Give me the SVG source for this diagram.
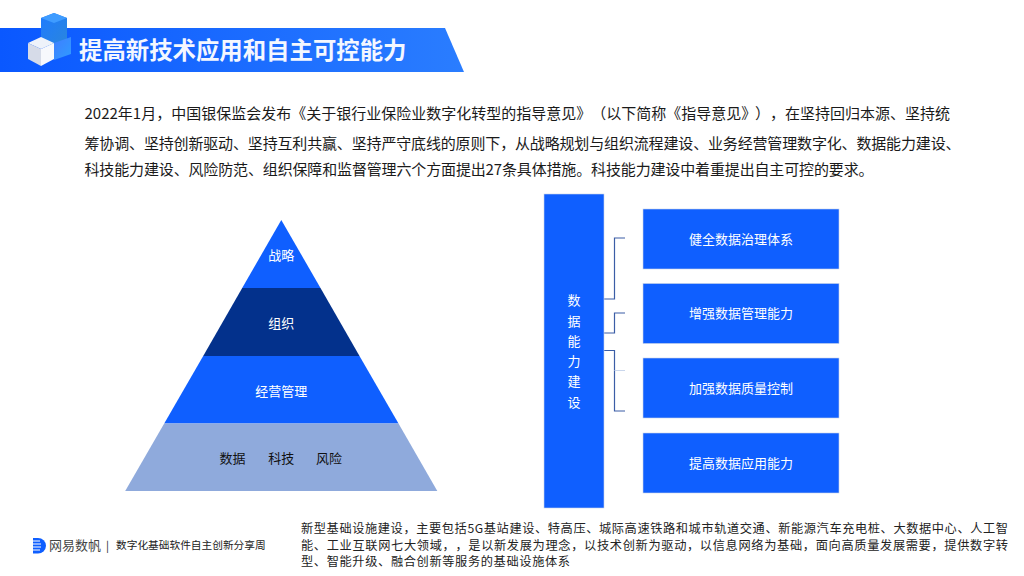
<svg xmlns="http://www.w3.org/2000/svg" width="1024" height="576" viewBox="0 0 1024 576">
<style>
text{font-family:"Noto Sans CJK SC","Liberation Sans",sans-serif;text-spacing-trim:space-all}
.body{font-size:15px;fill:#1a1a1a}
.foot{font-size:12.2px;fill:#222}
.w{font-size:13px;fill:#fff;text-anchor:middle}
.k{font-size:13px;fill:#111;text-anchor:middle}
.box{fill:#0f5fff;stroke:#c9d3e6;stroke-width:.6}
.conn{fill:none;stroke:#3b5da6;stroke-width:1.2}
</style>
<defs>
<linearGradient id="band" x1="0" x2="1" y1="0" y2="0"><stop offset="0" stop-color="#0a58ff"/><stop offset="1" stop-color="#2a7dff"/></linearGradient>
<linearGradient id="cubeTop" x1="0" x2="1" y1="0" y2="1"><stop offset="0" stop-color="#1f7bff"/><stop offset="1" stop-color="#2a86dc"/></linearGradient>
<linearGradient id="cubeSide" x1="0" x2="1" y1="0" y2="1"><stop offset="0" stop-color="#3f7eff"/><stop offset="1" stop-color="#2f9cff"/></linearGradient>
</defs>
<rect width="1024" height="576" fill="#fff"/>
<g id="header">
<polygon points="0,28 445,28 464,72 0,72" fill="url(#band)"/>
<g id="icon">
<polygon points="41,18 54,13 67,18 67,42 54,48 41,42" fill="url(#cubeTop)"/>
<polygon points="41,18 54,23 67,18 54,13" fill="#3f9cff"/>
<polygon points="54,43 71,37 71,54 54,60" fill="url(#cubeSide)"/>
<polygon points="28,43 41,37 54,43 41,49" fill="#eef2fa"/>
<polygon points="28,43 41,49 41,66 28,59" fill="#d6dbe8"/>
<polygon points="41,49 54,43 54,59 41,66" fill="#f7f8fc"/>
</g>
<text x="79" y="59" font-size="23.4" font-weight="700" fill="#f4f7ff">提高新技术应用和自主可控能力</text>
</g>
<g id="intro">
<text class="body" x="84.5" y="119">2022年1月，中国银保监会发布《关于银行业保险业数字化转型的指导意见》（以下简称《指导意见》<tspan x="755">）</tspan><tspan x="770">，</tspan><tspan x="785">在坚持回归本源、坚持统</tspan></text>
<text class="body" x="84.5" y="149" textLength="876" lengthAdjust="spacing">筹协调、坚持创新驱动、坚持互利共赢、坚持严守底线的原则下，从战略规划与组织流程建设、业务经营管理数字化、数据能力建设、</text>
<text class="body" x="84.5" y="175" textLength="789" lengthAdjust="spacing">科技能力建设、风险防范、组织保障和监督管理六个方面提出27条具体措施。科技能力建设中着重提出自主可控的要求。</text>
</g>
<g id="pyramid">
<g id="tier-strategy"><polygon points="281.3,220 320.5,288 242.2,288" fill="#0f5fff"/><text class="w" x="281.3" y="260">战略</text></g>
<g id="tier-org"><polygon points="242.2,288 320.5,288 359.5,356 203.2,356" fill="#03318c"/><text class="w" x="281.3" y="328">组织</text></g>
<g id="tier-ops"><polygon points="203.2,356 359.5,356 398.5,423.5 164.2,423.5" fill="#0f5fff"/><text class="w" x="281.3" y="396">经营管理</text></g>
<g id="tier-base"><polygon points="164.2,423.5 398.5,423.5 437.3,491 125.2,491" fill="#8faadc"/>
<text class="k" x="232.5" y="463">数据</text><text class="k" x="281.3" y="463">科技</text><text class="k" x="329" y="463">风险</text></g>
</g>
<g id="connectors">
<polyline class="conn" points="604,299 614.5,299 614.5,238 625,238"/>
<polyline class="conn" points="604,333 614.5,333 614.5,313 625,313"/>
<polyline class="conn" points="604,350.5 614.5,350.5 614.5,411 625,411"/>
<line x1="614.5" y1="370.5" x2="625" y2="370.5" stroke="#c9d6ec" stroke-width="1"/>
</g>
<g id="root-node"><rect class="box" x="544" y="194" width="60" height="314"/>
<text class="w" x="574" y="305">数</text><text class="w" x="574" y="325.5">据</text><text class="w" x="574" y="346">能</text><text class="w" x="574" y="366">力</text><text class="w" x="574" y="386">建</text><text class="w" x="574" y="407">设</text></g>
<g id="node-1"><rect class="box" x="643" y="209" width="196" height="60"/><text class="w" x="741" y="243.5">健全数据治理体系</text></g>
<g id="node-2"><rect class="box" x="643" y="283.5" width="196" height="60"/><text class="w" x="741" y="318">增强数据管理能力</text></g>
<g id="node-3"><rect class="box" x="643" y="358" width="196" height="60"/><text class="w" x="741" y="392.5">加强数据质量控制</text></g>
<g id="node-4"><rect class="box" x="643" y="433" width="196" height="60"/><text class="w" x="741" y="467.5">提高数据应用能力</text></g>
<g id="footer-logo">
<path d="M33,538 h5 a8,7.8 0 0 1 0,15.6 h-5 z" fill="#0f5fff"/>
<g stroke="#fff" stroke-width="1"><line x1="33" y1="541" x2="40" y2="541"/><line x1="33" y1="544" x2="41" y2="544"/><line x1="33" y1="547" x2="41" y2="547"/><line x1="33" y1="550" x2="40" y2="550"/></g>
<text x="49" y="550" font-size="13" fill="#444">网易数帆</text>
<text x="106" y="550" font-size="11" fill="#222">|</text>
<text x="116" y="549" font-size="10.7" fill="#222">数字化基础软件自主创新分享周</text>
</g>
<g id="footnote">
<text class="foot" x="301" y="533" textLength="707" lengthAdjust="spacing">新型基础设施建设，主要包括5G基站建设、特高压、城际高速铁路和城市轨道交通、新能源汽车充电桩、大数据中心、人工智</text>
<text class="foot" x="301" y="550" textLength="707" lengthAdjust="spacing">能、工业互联网七大领域，，是以新发展为理念，以技术创新为驱动，以信息网络为基础，面向高质量发展需要，提供数字转</text>
<text class="foot" x="301" y="566" textLength="269" lengthAdjust="spacing">型、智能升级、融合创新等服务的基础设施体系</text>
</g>
</svg>
